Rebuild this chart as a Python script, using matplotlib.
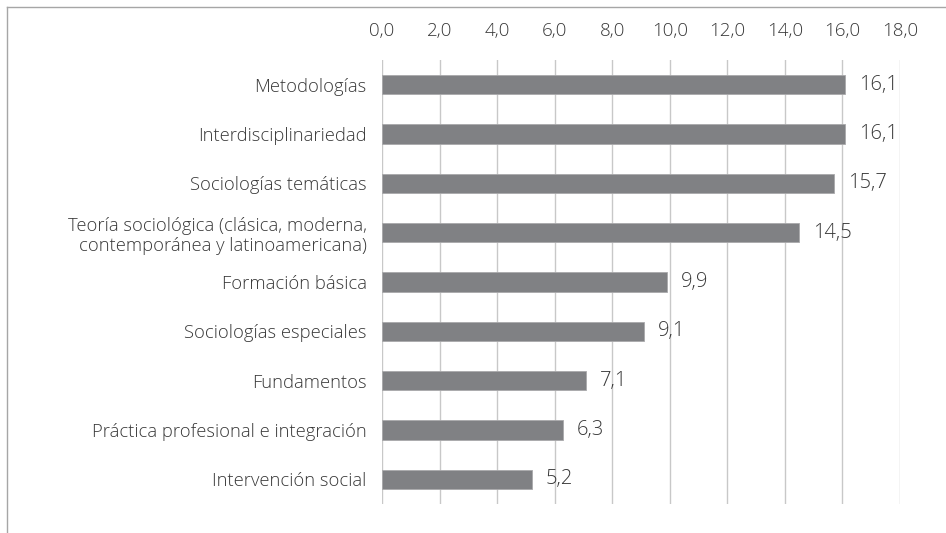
import matplotlib
matplotlib.use("Agg")
import matplotlib.pyplot as plt
from matplotlib.ticker import FuncFormatter
from matplotlib.lines import Line2D

categories = [
    "Metodologías",
    "Interdisciplinariedad",
    "Sociologías temáticas",
    "Teoría sociológica (clásica, moderna,\ncontemporánea y latinoamericana)",
    "Formación básica",
    "Sociologías especiales",
    "Fundamentos",
    "Práctica profesional e integración",
    "Intervención social",
]
values = [16.1, 16.1, 15.7, 14.5, 9.9, 9.1, 7.1, 6.3, 5.2]
xticks = [0, 2, 4, 6, 8, 10, 12, 14, 16, 18]

plt.rcParams['font.family'] = ['Open Sans', 'DejaVu Sans']
W_LIGHT = 300
text_color = "#383838"
bar_color = "#808184"
grid_color = "#c8c8c8"

W, H = 946, 533
fig = plt.figure(figsize=(W / 100, H / 100), dpi=100)
ax = fig.add_axes([382 / W, 1 - 504 / H, (900 - 382) / W, (504 - 60) / H])

y = list(range(len(categories)))
ax.barh(y, values, height=0.39, color=bar_color, edgecolor="#a9a9ab",
        linewidth=0.6, zorder=3)
ax.set_ylim(len(categories) - 0.5, -0.5)
ax.set_xlim(0, 18)
ax.set_xticks(xticks)
ax.xaxis.set_major_formatter(FuncFormatter(lambda v, p: f"{v:.1f}".replace(".", ",")))
ax.xaxis.tick_top()
ax.tick_params(axis="x", length=0, pad=14.5, labelsize=13.5, labelcolor=text_color)
ax.set_yticks(y)
ax.set_yticklabels(categories, fontsize=13.2, color=text_color, fontweight=W_LIGHT,
                   linespacing=1.15)
ax.tick_params(axis="y", length=0, pad=11)
for lab in ax.get_xticklabels():
    lab.set_fontweight(W_LIGHT)
for s in ax.spines.values():
    s.set_visible(False)
ax.grid(axis="x", color=grid_color, linewidth=1, zorder=1)
ax.set_axisbelow(True)

for yi, v in zip(y, values):
    ax.annotate(f"{v:.1f}".replace(".", ","), xy=(v, yi), xytext=(10, 0),
                textcoords="offset points", va="center", ha="left",
                fontsize=14.5, color=text_color, fontweight=W_LIGHT, zorder=4)

frame_color = "#a6a6a6"
fig.add_artist(Line2D([6.5 / W, 6.5 / W], [0, 1 - 7 / H], color=frame_color, lw=1))
fig.add_artist(Line2D([6.5 / W, 1], [1 - 7 / H, 1 - 7 / H], color=frame_color, lw=1))

fig.savefig("out.png", dpi=100)
